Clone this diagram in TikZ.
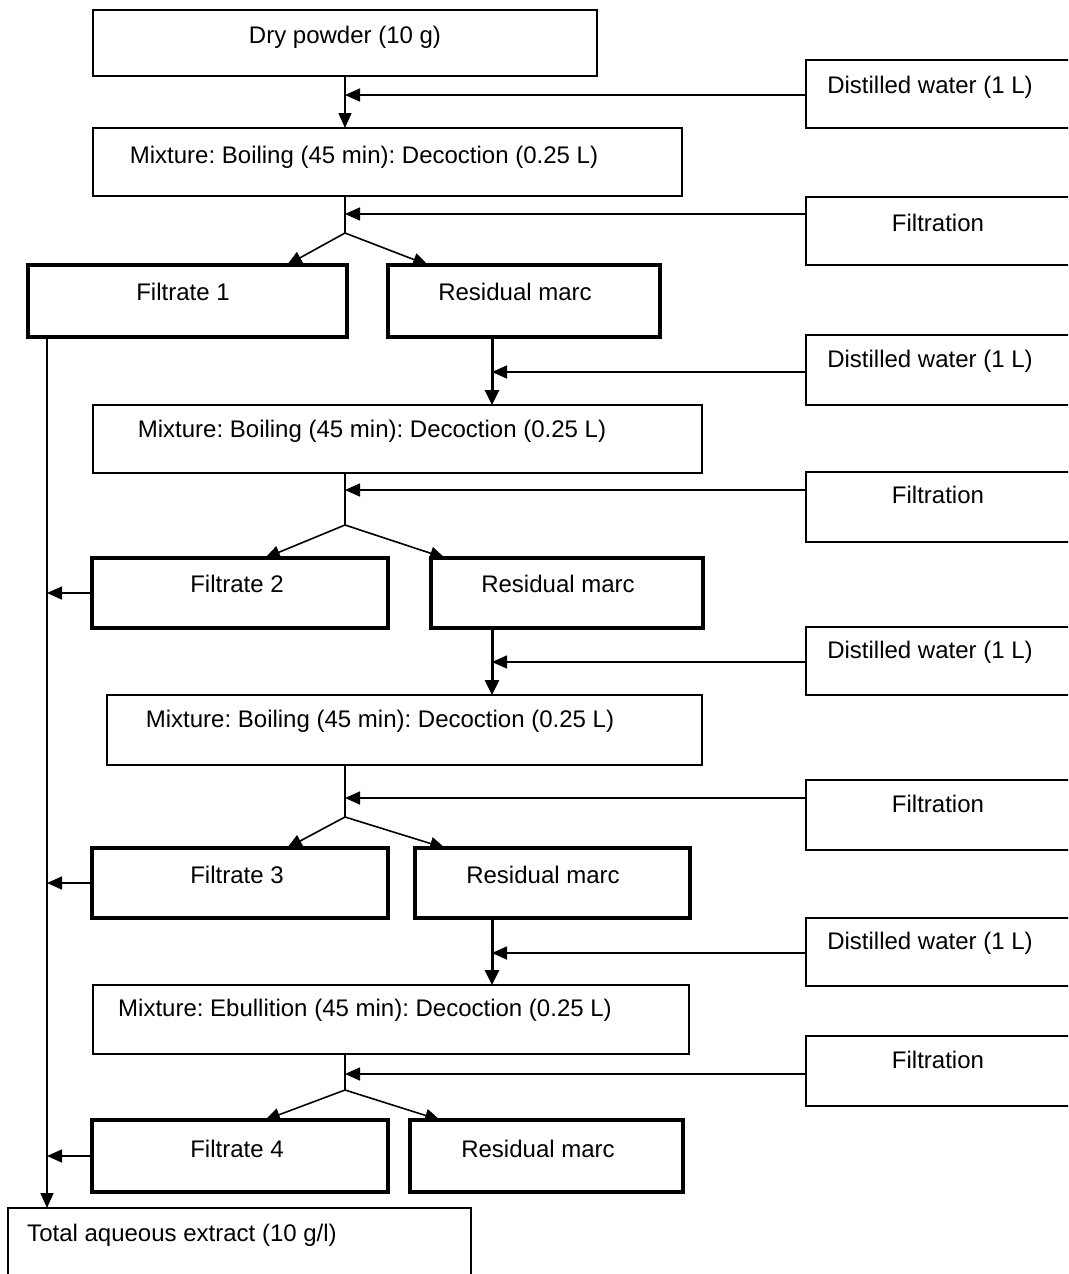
\documentclass[tikz,border=0pt]{standalone}
\usepackage{fontspec}
\setmainfont{Liberation Sans}
\usetikzlibrary{arrows.meta}
\frenchspacing
\begin{document}
\begin{tikzpicture}[x=1pt,y=-1pt,
  box/.style={draw,line width=1.6pt,inner sep=0pt,outer sep=0pt},
  tbox/.style={draw,line width=3.2pt,inner sep=0pt,outer sep=0pt},
  txt/.style={anchor=base,inner sep=0pt,font=\fontsize{24}{28}\selectfont},
  arr/.style={line width=1.6pt,-{Triangle[length=15pt,width=13pt]}},
  tarr/.style={line width=3pt,-{Triangle[length=15pt,width=14pt]}},
  ln/.style={line width=1.6pt}]
\useasboundingbox (0,0) rectangle (1068,1274);
\clip (0,0) rectangle (1068,1274);
% main column boxes
\node[box,minimum width=504pt,minimum height=66pt] (dry) at (345,43) {};
\node[txt] at (345,43) {Dry powder (10 g)};
\node[box,minimum width=589pt,minimum height=68pt] (mix1) at (387.5,162) {};
\node[txt] at (364,163) {Mixture: Boiling (45 min): Decoction (0.25 L)};
\node[tbox,minimum width=319pt,minimum height=72pt] (f1) at (187.5,301) {};
\node[txt] at (183,300) {Filtrate 1};
\node[tbox,minimum width=272pt,minimum height=72pt] (r1) at (524,301) {};
\node[txt] at (515,300) {Residual marc};
\node[box,minimum width=609pt,minimum height=68pt] (mix2) at (397.5,439) {};
\node[txt] at (372,437) {Mixture: Boiling (45 min): Decoction (0.25 L)};
\node[tbox,minimum width=296pt,minimum height=70pt] (f2) at (240,593) {};
\node[txt] at (237,592) {Filtrate 2};
\node[tbox,minimum width=272pt,minimum height=70pt] (r2) at (567,593) {};
\node[txt] at (558,592) {Residual marc};
\node[box,minimum width=595pt,minimum height=70pt] (mix3) at (404.5,730) {};
\node[txt] at (380,727) {Mixture: Boiling (45 min): Decoction (0.25 L)};
\node[tbox,minimum width=296pt,minimum height=70pt] (f3) at (240,883) {};
\node[txt] at (237,883) {Filtrate 3};
\node[tbox,minimum width=275pt,minimum height=70pt] (r3) at (552.5,883) {};
\node[txt] at (543,883) {Residual marc};
\node[box,minimum width=596pt,minimum height=69pt] (mix4) at (391,1019.5) {};
\node[txt] at (365,1016) {Mixture: Ebullition (45 min): Decoction (0.25 L)};
\node[tbox,minimum width=296pt,minimum height=72pt] (f4) at (240,1156) {};
\node[txt] at (237,1157) {Filtrate 4};
\node[tbox,minimum width=273pt,minimum height=72pt] (r4) at (546.5,1156) {};
\node[txt] at (538,1157) {Residual marc};
\node[box,minimum width=463pt,minimum height=92pt] (total) at (239.5,1254) {};
\node[txt] at (182,1241) {Total aqueous extract (10 g/l)};
% right side boxes (open on the right, cut by the page edge)
\foreach \nm/\ya/\yb/\tx/\bl/\lab in {dw1/60/128/930/93/{Distilled water (1 L)},
  fl1/197/265/938/231/{Filtration},
  dw2/335/405/930/367/{Distilled water (1 L)},
  fl2/472/542/938/503/{Filtration},
  dw3/627/695/930/658/{Distilled water (1 L)},
  fl3/780/850/938/812/{Filtration},
  dw4/918/986/930/949/{Distilled water (1 L)},
  fl4/1036/1106/938/1068/{Filtration}}{
  \node[box,minimum width=300pt,minimum height={\yb-\ya}] (\nm) at (956,{(\ya+\yb)/2}) {};
  \node[txt] at (\tx,\bl) {\lab};
}
% split points
\coordinate (s1) at (345,233);
\coordinate (s2) at (345,525);
\coordinate (s3) at (345,817);
\coordinate (s4) at (345,1090);
% main flow
\draw[arr] (dry.south) -- (mix1.north -| dry.south);
\draw[arr] (dw1.west |- 0,95) -- (345,95);
\draw[ln] (mix1.south -| s1) -- (s1);
\draw[arr] (fl1.west |- 0,214) -- (345,214);
\draw[arr] (s1) -- (f1.north -| 287,0);
\draw[arr] (s1) -- (r1.north -| 428,0);
\draw[tarr] (r1.south -| 492,0) -- (mix2.north -| 492,0);
\draw[arr] (dw2.west |- 0,372) -- (492,372);
\draw[ln] (mix2.south -| s2) -- (s2);
\draw[arr] (fl2.west |- 0,490) -- (345,490);
\draw[arr] (s2) -- (f2.north -| 265,0);
\draw[arr] (s2) -- (r2.north -| 445,0);
\draw[tarr] (r2.south -| 492,0) -- (mix3.north -| 492,0);
\draw[arr] (dw3.west |- 0,662) -- (492,662);
\draw[ln] (mix3.south -| s3) -- (s3);
\draw[arr] (fl3.west |- 0,798) -- (345,798);
\draw[arr] (s3) -- (f3.north -| 287,0);
\draw[arr] (s3) -- (r3.north -| 445,0);
\draw[tarr] (r3.south -| 492,0) -- (mix4.north -| 492,0);
\draw[arr] (dw4.west |- 0,953) -- (492,953);
\draw[ln] (mix4.south -| s4) -- (s4);
\draw[arr] (fl4.west |- 0,1074) -- (345,1074);
\draw[arr] (s4) -- (f4.north -| 265,0);
\draw[arr] (s4) -- (r4.north -| 440,0);
% collecting line
\draw[arr] (f1.south -| 47,0) -- (total.north -| 47,0);
\draw[arr] (f2.west) -- (f2.west -| 47,0);
\draw[arr] (f3.west) -- (f3.west -| 47,0);
\draw[arr] (f4.west) -- (f4.west -| 47,0);
\end{tikzpicture}
\end{document}
